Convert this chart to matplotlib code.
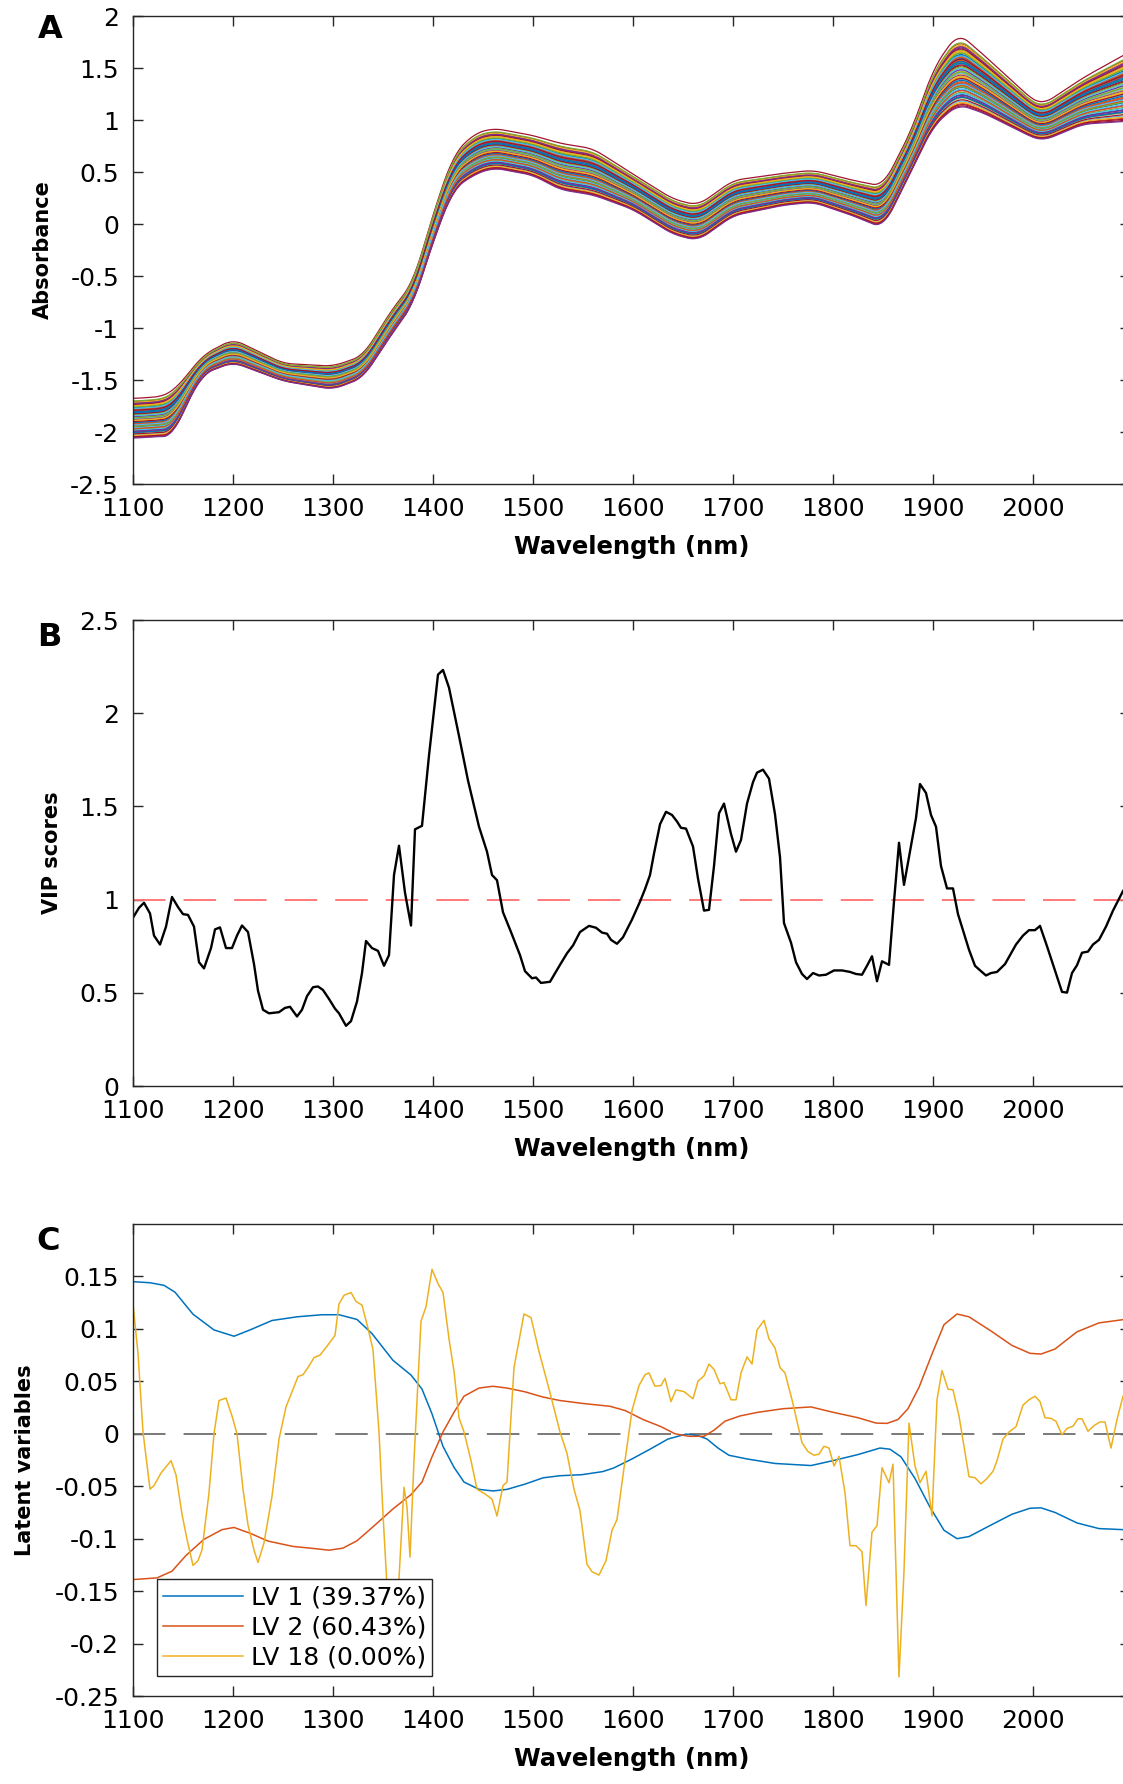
import numpy as np
import matplotlib
matplotlib.use('Agg')
import matplotlib.pyplot as plt

plt.rcParams['font.family'] = ['DejaVu Sans']

# ---- A: absorbance spectra (envelope of the sample set) ----
wl_env = [1100, 1130, 1140, 1150, 1170, 1200, 1250, 1300, 1330, 1360, 1380, 1400,
          1420, 1440, 1460, 1500, 1527, 1560, 1600, 1640, 1665, 1700, 1750, 1780,
          1820, 1850, 1880, 1900, 1925, 1950, 2000, 2010, 2050, 2097]
abs_upper = [-1.70, -1.68, -1.63, -1.52, -1.27, -1.12, -1.35, -1.38, -1.28, -0.82, -0.58, 0.08,
             0.64, 0.84, 0.90, 0.83, 0.75, 0.70, 0.46, 0.22, 0.16, 0.40, 0.47, 0.50,
             0.40, 0.34, 0.91, 1.46, 1.80, 1.60, 1.17, 1.13, 1.38, 1.62]
abs_lower = [-2.06, -2.04, -2.05, -1.80, -1.44, -1.33, -1.51, -1.59, -1.48, -1.04, -0.78, -0.17,
             0.33, 0.47, 0.54, 0.47, 0.33, 0.28, 0.14, -0.10, -0.16, 0.08, 0.18, 0.21,
             0.08, -0.04, 0.54, 0.94, 1.15, 1.07, 0.83, 0.80, 0.96, 0.99]
# position of each sample inside the envelope (-1 = lower edge, 1 = upper edge)
sample_level = [0.62, -0.35, 0.10, 0.88, -0.72, 0.33, 1.12, 0.51, -0.90, 0.20,
                -0.48, 0.75, -0.15, 0.42, -0.62, 0.95, 0.02, -0.28, 0.68, -0.82,
                0.27, -0.40, 0.56, -0.10, 0.82, -0.55, 0.14, -0.97, 0.47, -0.22,
                0.71, -0.68, 0.37, 0.05, -0.78, 0.60, -0.33, 0.90, -0.02, 0.24,
                -0.58, 0.79, -0.18, 0.44, -0.86, 0.15, 0.66, -0.45, 0.30, -0.70,
                0.53, -0.08, 0.85, -0.38, 0.19, -0.93, 0.40, -0.25, 0.73, -0.64,
                0.08, 0.58, -0.12, 0.35, -0.50, -0.05, -1.00, 0.98, -0.30, 0.48]

# ---- B: VIP scores ----
vip_wl = [1100, 1106, 1111, 1117, 1121, 1127, 1133, 1139, 1145, 1150, 1155, 1161, 1166, 1171,
          1178, 1182, 1187, 1193, 1199, 1204, 1209, 1215, 1221, 1225, 1230, 1236, 1246, 1252,
          1257, 1264, 1269, 1274, 1280, 1285, 1290, 1296, 1302, 1306, 1313, 1318, 1324, 1329,
          1333, 1339, 1345, 1351, 1356, 1361, 1366, 1372, 1378, 1382, 1389, 1396, 1405, 1410,
          1416, 1426, 1435, 1446, 1454, 1459, 1464, 1470, 1478, 1487, 1492, 1499, 1503, 1508,
          1517, 1527, 1534, 1540, 1547, 1556, 1563, 1569, 1574, 1578, 1584, 1590, 1599, 1607,
          1612, 1617, 1621, 1627, 1633, 1639, 1644, 1648, 1653, 1660, 1665, 1671, 1676, 1681,
          1686, 1691, 1698, 1703, 1708, 1714, 1720, 1724, 1730, 1736, 1742, 1747, 1751, 1758,
          1763, 1769, 1774, 1780, 1786, 1793, 1801, 1809, 1817, 1823, 1829, 1834, 1839, 1844,
          1849, 1856, 1861, 1866, 1871, 1877, 1883, 1887, 1893, 1898, 1903, 1908, 1914, 1920,
          1925, 1931, 1936, 1942, 1948, 1953, 1958, 1964, 1972, 1983, 1990, 1996, 2002, 2007,
          2014, 2021, 2029, 2034, 2039, 2044, 2049, 2055, 2060, 2066, 2073, 2080, 2090]
vip = [0.903, 0.956, 0.983, 0.926, 0.807, 0.759, 0.855, 1.014, 0.960, 0.922, 0.918, 0.855, 0.664, 0.631,
       0.740, 0.840, 0.851, 0.740, 0.740, 0.807, 0.861, 0.826, 0.654, 0.511, 0.409, 0.390, 0.396, 0.419,
       0.425, 0.373, 0.409, 0.482, 0.530, 0.534, 0.515, 0.467, 0.415, 0.390, 0.323, 0.348, 0.453, 0.606,
       0.778, 0.740, 0.725, 0.645, 0.702, 1.132, 1.289, 1.037, 0.861, 1.377, 1.396, 1.773, 2.207, 2.232,
       2.137, 1.878, 1.639, 1.391, 1.257, 1.132, 1.104, 0.932, 0.826, 0.702, 0.616, 0.578, 0.582, 0.553,
       0.559, 0.650, 0.712, 0.754, 0.826, 0.859, 0.849, 0.823, 0.817, 0.784, 0.763, 0.798, 0.893, 0.989,
       1.056, 1.132, 1.247, 1.404, 1.471, 1.454, 1.419, 1.385, 1.381, 1.285, 1.113, 0.941, 0.945, 1.180,
       1.463, 1.515, 1.352, 1.257, 1.320, 1.515, 1.630, 1.681, 1.697, 1.649, 1.458, 1.228, 0.874, 0.769,
       0.664, 0.601, 0.574, 0.606, 0.593, 0.597, 0.620, 0.620, 0.612, 0.601, 0.597, 0.645, 0.696, 0.562,
       0.669, 0.650, 0.989, 1.305, 1.079, 1.257, 1.438, 1.620, 1.572, 1.454, 1.391, 1.180, 1.060, 1.060,
       0.922, 0.817, 0.731, 0.645, 0.616, 0.593, 0.606, 0.612, 0.654, 0.759, 0.807, 0.836, 0.836, 0.859,
       0.750, 0.635, 0.505, 0.501, 0.606, 0.648, 0.715, 0.721, 0.759, 0.784, 0.855, 0.941, 1.046]
vip_threshold = 1.0

# ---- C: PLS loadings ----
lv1_wl = [1100, 1117, 1131, 1142, 1160, 1181, 1201, 1217, 1239, 1264, 1289, 1306, 1324, 1339,
          1360, 1378, 1389, 1399, 1410, 1421, 1431, 1446, 1460, 1474, 1492, 1510, 1527, 1549,
          1570, 1581, 1599, 1617, 1635, 1653, 1665, 1674, 1685, 1696, 1714, 1742, 1778, 1800,
          1825, 1847, 1857, 1868, 1882, 1897, 1911, 1924, 1936, 1958, 1979, 1997, 2008, 2022,
          2044, 2066, 2090]
lv1 = [0.145, 0.144, 0.1415, 0.135, 0.114, 0.099, 0.093, 0.099, 0.108, 0.1115, 0.1135, 0.1135, 0.109, 0.0955,
       0.070, 0.056, 0.0426, 0.019, -0.012, -0.032, -0.046, -0.053, -0.0545, -0.053, -0.048, -0.042, -0.040, -0.039,
       -0.036, -0.0325, -0.024, -0.0147, -0.005, -0.0003, -0.0017, -0.005, -0.0136, -0.0205, -0.024, -0.0283, -0.0303, -0.0256,
       -0.0198, -0.0136, -0.0147, -0.022, -0.0426, -0.070, -0.092, -0.100, -0.098, -0.087, -0.0767, -0.071, -0.0706, -0.075,
       -0.085, -0.0904, -0.0914]
lv2_wl = [1100, 1124, 1139, 1153, 1171, 1189, 1201, 1217, 1235, 1260, 1281, 1296, 1310, 1324,
          1342, 1360, 1378, 1389, 1399, 1410, 1421, 1431, 1446, 1460, 1474, 1492, 1510, 1527,
          1549, 1577, 1592, 1610, 1628, 1642, 1656, 1671, 1681, 1692, 1707, 1725, 1750, 1778,
          1800, 1825, 1843, 1854, 1865, 1875, 1886, 1900, 1911, 1924, 1936, 1958, 1979, 1997,
          2008, 2022, 2044, 2066, 2090]
lv2 = [-0.139, -0.1374, -0.131, -0.116, -0.1006, -0.0914, -0.0893, -0.0948, -0.1023, -0.1074, -0.1094, -0.111, -0.109, -0.102,
       -0.087, -0.0716, -0.058, -0.046, -0.022, 0.0017, 0.0205, 0.0358, 0.0436, 0.0453, 0.0436, 0.040, 0.035, 0.0317,
       0.029, 0.0262, 0.0222, 0.0136, 0.0068, 0.0, -0.0024, -0.0024, 0.0034, 0.012, 0.017, 0.0205, 0.0239, 0.0256,
       0.0205, 0.0153, 0.0102, 0.0099, 0.0136, 0.0239, 0.0443, 0.0784, 0.104, 0.1142, 0.1115, 0.098, 0.0842, 0.0767,
       0.076, 0.0808, 0.0972, 0.1057, 0.1088]
lv18_wl = [1100, 1105, 1110, 1117, 1121, 1128, 1138, 1143, 1149, 1154, 1160, 1165, 1169, 1176,
           1181, 1186, 1193, 1199, 1204, 1210, 1215, 1221, 1225, 1231, 1239, 1246, 1253, 1258,
           1265, 1270, 1275, 1281, 1287, 1294, 1302, 1306, 1311, 1318, 1323, 1329, 1335, 1340,
           1346, 1350, 1354, 1358, 1362, 1366, 1371, 1374, 1377, 1381, 1388, 1393, 1399, 1405,
           1410, 1416, 1421, 1426, 1431, 1438, 1444, 1453, 1459, 1464, 1470, 1474, 1481, 1491,
           1498, 1506, 1517, 1527, 1534, 1541, 1547, 1554, 1559, 1566, 1573, 1579, 1584, 1592,
           1599, 1606, 1612, 1616, 1622, 1628, 1632, 1638, 1643, 1651, 1660, 1665, 1671, 1676,
           1681, 1687, 1691, 1698, 1703, 1708, 1714, 1719, 1724, 1731, 1736, 1742, 1747, 1752,
           1759, 1764, 1769, 1775, 1781, 1786, 1791, 1796, 1801, 1806, 1812, 1817, 1823, 1829,
           1833, 1839, 1844, 1849, 1856, 1860, 1866, 1871, 1876, 1882, 1887, 1893, 1899, 1904,
           1909, 1915, 1920, 1926, 1931, 1936, 1942, 1948, 1954, 1960, 1964, 1970, 1976, 1983,
           1990, 1996, 2002, 2007, 2012, 2018, 2023, 2029, 2034, 2040, 2045, 2049, 2055, 2061,
           2067, 2072, 2078, 2084, 2090]
lv18 = [0.1238, 0.0767, 0.0017, -0.0528, -0.0494, -0.0375, -0.0256, -0.0392, -0.0767, -0.1006, -0.1255, -0.121, -0.1108, -0.0563,
        0.0, 0.0317, 0.0341, 0.017, 0.0, -0.0528, -0.0869, -0.1108, -0.1227, -0.104, -0.0597, -0.0051, 0.0256, 0.0375,
        0.0546, 0.0563, 0.0631, 0.0726, 0.075, 0.0835, 0.0938, 0.1238, 0.132, 0.1347, 0.1262, 0.1227, 0.1006, 0.0801,
        0.0017, -0.0767, -0.145, -0.175, -0.160, -0.138, -0.051, -0.0699, -0.1176, -0.0256, 0.1074, 0.121, 0.1568, 0.1432,
        0.1347, 0.0904, 0.0597, 0.0153, 0.0017, -0.0256, -0.0528, -0.058, -0.0624, -0.0784, -0.0494, -0.046, 0.0631, 0.1142,
        0.1108, 0.0784, 0.0392, 0.0017, -0.0187, -0.0528, -0.0733, -0.1244, -0.1315, -0.1347, -0.121, -0.092, -0.0818, -0.0256,
        0.0222, 0.046, 0.0563, 0.058, 0.0453, 0.046, 0.0528, 0.0307, 0.0419, 0.0402, 0.0334, 0.0501, 0.0552, 0.0665,
        0.0614, 0.0477, 0.0488, 0.0324, 0.0324, 0.058, 0.0733, 0.0665, 0.0989, 0.1081, 0.0904, 0.0818, 0.0631, 0.058,
        0.0324, 0.0119, -0.0085, -0.017, -0.0205, -0.0194, -0.0119, -0.0136, -0.0307, -0.0215, -0.0563, -0.1067, -0.1067, -0.1125,
        -0.1637, -0.0938, -0.0876, -0.0324, -0.0467, -0.029, -0.2318, -0.131, 0.0102, -0.0307, -0.0467, -0.0358, -0.0784, 0.0324,
        0.0603, 0.0426, 0.0419, 0.017, -0.0119, -0.0409, -0.0419, -0.0477, -0.0426, -0.0358, -0.0256, -0.0051, 0.0017, 0.0068,
        0.0273, 0.0324, 0.0358, 0.0307, 0.0153, 0.0147, 0.0119, -0.001, 0.0051, 0.0072, 0.0143, 0.0143, 0.0024, 0.0078,
        0.0113, 0.0113, -0.0136, 0.0136, 0.0358]
lv_labels = ['LV 1 (39.37%)', 'LV 2 (60.43%)', 'LV 18 (0.00%)']

matlab_colors = ['#0072bd', '#d95319', '#edb120', '#7e2f8e', '#77ac30', '#4dbeee', '#a2142f']
axis_col = '#262626'

W, H = 1123, 1784
fig = plt.figure(figsize=(W / 100, H / 100), dpi=100)

x_left, x_right = 133, 1130
xlim = (1100, 1100 + (x_right - x_left))


def make_axes(top, bottom):
    ax = fig.add_axes([x_left / W, 1 - bottom / H, (x_right - x_left) / W, (bottom - top) / H])
    ax.set_xlim(*xlim)
    ax.set_xticks(range(1100, 2001, 100))
    for s in ax.spines.values():
        s.set_color(axis_col)
        s.set_linewidth(1.0)
    ax.tick_params(direction='in', length=7, width=1.0, color=axis_col,
                   top=True, right=True, labelsize=18, labelcolor='black')
    ax.tick_params(axis='x', pad=9.5)
    ax.tick_params(axis='y', pad=10)
    ax.set_xlabel('Wavelength (nm)', fontsize=17.5, fontweight='bold', labelpad=10)
    return ax


def set_ylab(ax, text, xc):
    ax.set_ylabel(text, fontsize=15, fontweight='bold')
    ax.yaxis.set_label_coords((xc - x_left) / (x_right - x_left), 0.5)
    ax.yaxis.label.set_verticalalignment('center')


# panel A
axA = make_axes(16, 484)
grid = np.arange(1100, 2098, 1.0)
up = np.interp(grid, wl_env, abs_upper)
lo = np.interp(grid, wl_env, abs_lower)
k = np.ones(21) / 21
pad = 10
up = np.convolve(np.pad(up, pad, mode='edge'), k, mode='valid')
lo = np.convolve(np.pad(lo, pad, mode='edge'), k, mode='valid')
mid = (up + lo) / 2
half = (up - lo) / 2
for i, lev in enumerate(sample_level):
    axA.plot(grid, mid + lev * half, color=matlab_colors[i % 7], lw=0.9)
axA.set_ylim(-2.5, 2)
axA.set_yticks(np.arange(-2.5, 2.01, 0.5))
axA.set_yticklabels(['-2.5', '-2', '-1.5', '-1', '-0.5', '0', '0.5', '1', '1.5', '2'])
set_ylab(axA, 'Absorbance', 43)

# panel B
axB = make_axes(620, 1086)
axB.axhline(vip_threshold, color='#ff6f6f', lw=1.3, dashes=(18, 10))
axB.plot(vip_wl, vip, color='black', lw=1.7)
axB.set_ylim(0, 2.5)
axB.set_yticks(np.arange(0, 2.51, 0.5))
axB.set_yticklabels(['0', '0.5', '1', '1.5', '2', '2.5'])
set_ylab(axB, 'VIP scores', 52)

# panel C
axC = make_axes(1224, 1696)
axC.axhline(0, color='#6e6e6e', lw=1.3, dashes=(18, 10))
axC.plot(lv1_wl, lv1, color=matlab_colors[0], lw=1.1, label=lv_labels[0])
axC.plot(lv2_wl, lv2, color=matlab_colors[1], lw=1.1, label=lv_labels[1])
axC.plot(lv18_wl, lv18, color=matlab_colors[2], lw=1.1, label=lv_labels[2])
axC.set_ylim(-0.25, 0.2)
axC.set_yticks([-0.25, -0.2, -0.15, -0.1, -0.05, 0, 0.05, 0.1, 0.15])
axC.set_yticklabels(['-0.25', '-0.2', '-0.15', '-0.1', '-0.05', '0', '0.05', '0.1', '0.15'])
set_ylab(axC, 'Latent variables', 25)
leg = axC.legend(loc='lower left', bbox_to_anchor=((157 - x_left) / (x_right - x_left), (1696 - 1676) / 472),
                 fontsize=18, frameon=True, fancybox=False, framealpha=1, edgecolor=axis_col,
                 handlelength=3.2, handletextpad=0.3, labelspacing=0.25, borderpad=0.25,
                 borderaxespad=0)
leg.get_frame().set_linewidth(1.0)

# panel letters
for letter, (px, py) in zip('ABC', [(50, 29), (49, 637), (48, 1242)]):
    fig.text(px / W, 1 - py / H, letter, fontsize=23, fontweight='bold', ha='center', va='center')

fig.savefig('out.png', dpi=100)
